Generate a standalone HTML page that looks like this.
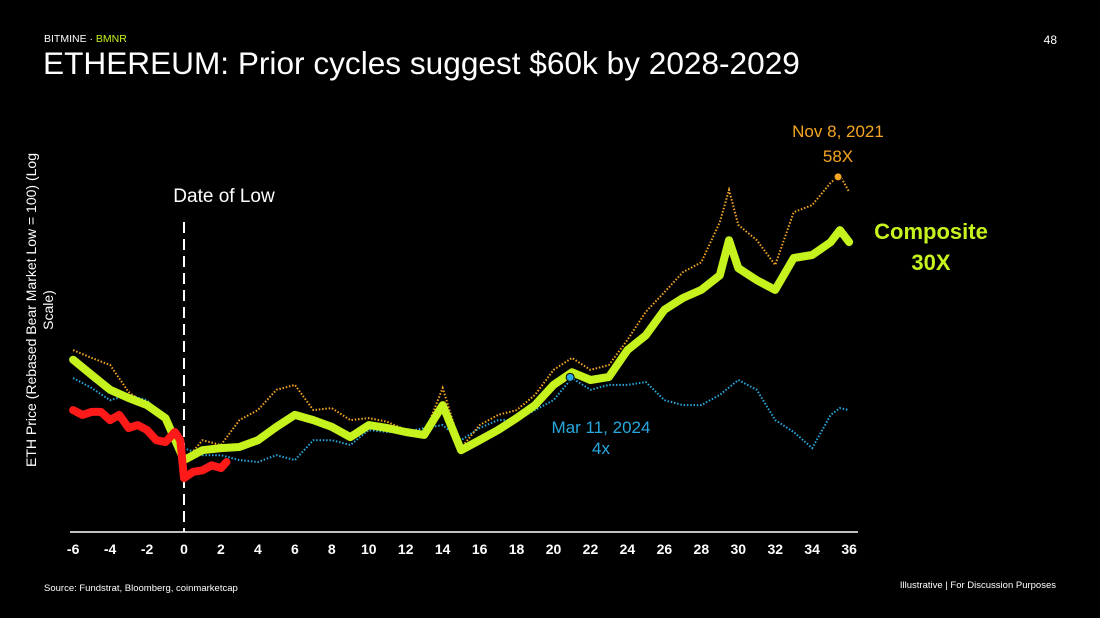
<!DOCTYPE html>
<html><head><meta charset="utf-8"><style>
body{margin:0;background:#000;width:1100px;height:618px;overflow:hidden;font-family:"Liberation Sans",sans-serif;color:#fff}
svg{position:absolute;left:0;top:0}
</style></head><body>
<svg width="1100" height="618">
<text x="44" y="42" font-size="10.5" fill="#fff">BITMINE · <tspan fill="#c6f21e">BMNR</tspan></text>
<text x="1057" y="44" font-size="12" fill="#fff" text-anchor="end">48</text>
<text x="43" y="74" font-size="31.6" fill="#fff">ETHEREUM: Prior cycles suggest $60k by 2028-2029</text>
<g transform="translate(36,310) rotate(-90)">
<text x="0" y="0" font-size="14" fill="#fff" text-anchor="middle">ETH Price (Rebased Bear Market Low = 100) (Log</text>
<text x="0" y="17" font-size="14" fill="#fff" text-anchor="middle">Scale)</text></g>
<g id="plot"></g>
<text x="224" y="202" font-size="19" fill="#fff" text-anchor="middle">Date of Low</text>
<text x="838" y="137" font-size="17" fill="#f5a623" text-anchor="middle">Nov 8, 2021</text>
<text x="838" y="162" font-size="17" fill="#f5a623" text-anchor="middle">58X</text>
<text x="931" y="239" font-size="22" font-weight="bold" fill="#c6f21e" text-anchor="middle">Composite</text>
<text x="931" y="270" font-size="22" font-weight="bold" fill="#c6f21e" text-anchor="middle">30X</text>
<text x="601" y="433" font-size="17" fill="#29a8e0" text-anchor="middle">Mar 11, 2024</text>
<text x="601" y="454" font-size="17" fill="#29a8e0" text-anchor="middle">4x</text>
<text x="44" y="591" font-size="9.5" fill="#fff">Source: Fundstrat, Bloomberg, coinmarketcap</text>
<text x="1056" y="588" font-size="9.5" fill="#fff" text-anchor="end">Illustrative  |  For Discussion Purposes</text>
</svg>
<script>
const xs=[-6,-5,-4,-3,-2,-1,0,1,2,3,4,5,6,7,8,9,10,11,12,13,14,15,16,17,18,19,20,21,22,23,24,25,26,27,28,29,29.5,30,31,32,33,34,35,35.5,36];
const composite=[486,384,305,269,241,197,103,120,124,126,140,172,207,191,172,147,177,169,159,152,241,120,140,164,197,241,329,400,355,372,564,710,1050,1260,1430,1790,3080,2000,1660,1430,2340,2450,2990,3600,2990];
const cycle2021=[564,500,448,295,241,207,100,140,130,191,223,305,329,223,230,191,197,186,164,152,314,124,177,207,223,282,415,500,415,448,660,1020,1380,1880,2190,4070,6700,3900,3080,2100,4750,5300,7500,8400,6500];
const cycle2024=[366,314,260,282,260,191,124,111,111,103,100,111,103,140,140,130,164,159,159,169,177,140,169,191,191,223,260,366,305,329,329,344,260,241,241,282,355,305,191,159,124,207,230,223];
const cycle2024x=xs.filter(v=>v!==29.5);
const currentX=[-6,-5.5,-5,-4.5,-4,-3.5,-3,-2.5,-2,-1.5,-1,-0.5,-0.2,0,0.5,1,1.5,2,2.3];
const current=[223,207,217,217,191,207,169,177,164,140,136,159,140,78,86,88,95,91,100];
const xTicks=[-6,-4,-2,0,2,4,6,8,10,12,14,16,18,20,22,24,26,28,30,32,34,36];
const peak2021={x:35.4,v:8200}, peak2024={x:20.9,v:370};
const NS='http://www.w3.org/2000/svg';
const xS=x=>184+x*18.476;
const yS=v=>462-149*Math.log10(v/100);
const g=document.getElementById('plot');
function mk(t,a){const e=document.createElementNS(NS,t);for(const k in a)e.setAttribute(k,a[k]);g.appendChild(e);return e;}
function path(xa,va){return xa.map((x,i)=>(i?'L':'M')+xS(x).toFixed(1)+','+yS(va[i]).toFixed(1)).join('');}
let e=mk('line',{x1:70,x2:858,y1:532,y2:532,stroke:'#fff','stroke-width':1.5});


xTicks.forEach(t=>{const tx=mk('text',{x:xS(t),y:554,'font-size':14,'font-weight':'bold',fill:'#fff','text-anchor':'middle'});tx.textContent=t;

});
e=mk('line',{x1:xS(0),x2:xS(0),y1:222,y2:532,stroke:'#fff','stroke-width':2,'stroke-dasharray':'11 6'});


e=mk('path',{d:path(cycle2024x,cycle2024),fill:'none',stroke:'#29a8e0','stroke-width':2,'stroke-dasharray':'1.5 1.8'});


e=mk('path',{d:path(xs,cycle2021),fill:'none',stroke:'#f5a623','stroke-width':2,'stroke-dasharray':'1.5 1.8'});


e=mk('path',{d:path(xs,composite),fill:'none',stroke:'#c6f21e','stroke-width':8,'stroke-linejoin':'round','stroke-linecap':'round'});


e=mk('path',{d:path(currentX,current),fill:'none',stroke:'#ff1a1a','stroke-width':8,'stroke-linejoin':'round','stroke-linecap':'round'});


e=mk('circle',{cx:xS(peak2021.x),cy:yS(peak2021.v),r:4,fill:'#f5a623',stroke:'#000','stroke-width':1});


e=mk('circle',{cx:xS(peak2024.x),cy:yS(peak2024.v),r:4,fill:'#29a8e0',stroke:'#000','stroke-width':1});


</script>
</body></html>
